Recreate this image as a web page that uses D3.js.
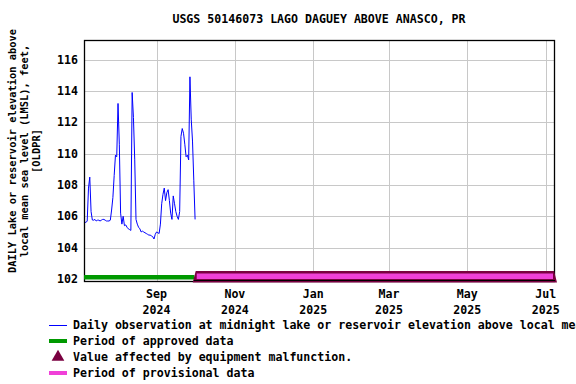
<!DOCTYPE html>
<html><head><meta charset="utf-8">
<script src="https://cdn.jsdelivr.net/npm/d3@7"></script>
<style>
html,body{margin:0;padding:0;background:#fff;}
svg{display:block;font-family:"DejaVu Sans Mono","Liberation Mono",monospace;font-weight:bold;}
</style></head>
<body><svg id="c" width="576" height="384"></svg>
<script>
const title = "USGS 50146073 LAGO DAGUEY ABOVE ANASCO, PR";
const yLabelLines = ["DAILY Lake or reservoir elevation above", "local mean sea level (LMSL), feet,", "[OLDPR]"];
const startDate = "2024-07-07";
const elevation = [105.65,105.6,105.7,107.8,108.5,106.3,105.76,105.75,105.8,105.7,105.75,105.75,105.7,105.75,105.8,105.8,105.75,105.7,105.7,105.7,105.75,
  106.4,107.2,108.6,109.9,109.8,113.2,110.6,106.2,105.5,106.0,105.4,105.45,105.3,105.2,105.15,105.1,
  113.9,112.3,109.6,105.8,105.5,105.3,105.2,105.0,105.05,105.0,104.95,104.9,104.85,104.8,104.8,104.75,104.7,104.55,104.85,105.0,104.95,104.9,
  105.5,106.8,107.4,107.8,107.0,107.5,107.7,107.0,106.2,105.8,107.3,106.8,106.3,106.0,105.8,106.3,
  111.1,111.6,111.3,110.6,109.8,109.9,109.6,114.9,112.2,110.8,108.3,105.8];
const yTicks = [102,104,106,108,110,112,114,116];
const xTickDates = ["2024-09-01","2024-11-01","2025-01-01","2025-03-01","2025-05-01","2025-07-01"];
const xTickLabels = [["Sep","2024"],["Nov","2024"],["Jan","2025"],["Mar","2025"],["May","2025"],["Jul","2025"]];
const approvedPeriod = ["2024-07-06T12:00","2024-09-30T12:00"];
const provisionalPeriod = ["2024-10-01T12:00","2025-07-07T12:00"];
const xDomain = ["2024-07-06T12:00","2025-07-07T12:00"];
const yDomain = [101.87, 117.25];
const legendItems = [
  {type:"line", text:"Daily observation at midnight lake or reservoir elevation above local mean sea level (LMSL), feet, [OLDPR]"},
  {type:"approved", text:"Period of approved data"},
  {type:"tri", text:"Value affected by equipment malfunction."},
  {type:"prov", text:"Period of provisional data"}
];

const parse = s => new Date(s + (s.length===10 ? "T00:00" : ""));
const svg = d3.select("#c");
const L=84, R=554, T=40, B=281;
const x = d3.scaleTime().domain(xDomain.map(parse)).range([L,R]);
const y = d3.scaleLinear().domain(yDomain).range([B,T]);
const FS = "11.6px";

// gridlines
svg.append("g").selectAll("line").data(yTicks.slice(1)).join("line")
  .attr("x1",L).attr("x2",R).attr("y1",d=>Math.round(y(d))+0.5).attr("y2",d=>Math.round(y(d))+0.5)
  .attr("stroke","#c8c8c8").attr("stroke-width",1);
svg.append("g").selectAll("line").data(xTickDates).join("line")
  .attr("x1",d=>Math.round(x(parse(d)))+0.5).attr("x2",d=>Math.round(x(parse(d)))+0.5).attr("y1",T).attr("y2",B)
  .attr("stroke","#c8c8c8").attr("stroke-width",1);

// data line
const s0 = parse(startDate);
const pts = elevation.map((v,i)=>({d:d3.timeDay.offset(s0,i), v}));
svg.append("path").datum(pts)
  .attr("d", d3.line().x(d=>x(d.d)).y(d=>y(d.v)))
  .attr("fill","none").attr("stroke","#0000ff").attr("stroke-width",1);

// frame
svg.append("rect").attr("x",L+0.5).attr("y",T+0.5).attr("width",R-L).attr("height",B-T)
  .attr("fill","none").attr("stroke","#000").attr("stroke-width",1.3);

// approved bar
const ap = approvedPeriod.map(parse);
svg.append("rect").attr("x",x(ap[0])).attr("y",275).attr("width",x(ap[1])-x(ap[0])).attr("height",4.5).attr("fill","#009900");
// malfunction band + provisional bar
const pp = provisionalPeriod.map(parse);
const px0 = x(pp[0]), px1 = x(pp[1]);
svg.append("path").attr("d",`M${px0-3},282.5 L${px0},271 L${px1},271 L${px1+3},282.5 Z`).attr("fill","#7a0040");
svg.append("rect").attr("x",px0+1).attr("y",273.5).attr("width",px1-px0-2).attr("height",5.5).attr("fill","#f040d8");
svg.append("line").attr("x1",px0-2).attr("x2",px1+1).attr("y1",280.5).attr("y2",280.5).attr("stroke","#000").attr("stroke-width",1);

// y tick labels
svg.append("g").selectAll("text").data(yTicks).join("text")
  .attr("x",78).attr("y",d=>y(d)).attr("dy","0.35em").attr("text-anchor","end").attr("font-size",FS)
  .text(d=>d);
// x tick labels
const xg = svg.append("g").selectAll("text").data(xTickDates).join("text")
  .attr("x",d=>x(parse(d))).attr("text-anchor","middle").attr("font-size",FS);
xg.append("tspan").attr("x",d=>x(parse(d))).attr("y",298).text((d,i)=>xTickLabels[i][0]);
xg.append("tspan").attr("x",d=>x(parse(d))).attr("y",314).text((d,i)=>xTickLabels[i][1]);

// title
svg.append("text").attr("x",(L+R)/2).attr("y",23).attr("text-anchor","middle").attr("font-size",FS).text(title);

// y label
const yl = svg.append("text").attr("transform",`translate(0,151) rotate(-90)`).attr("text-anchor","middle").attr("font-size","10.4px");
yLabelLines.forEach((t,i)=>yl.append("tspan").attr("x",0).attr("y",16+i*12).text(t));

// legend
const lg = svg.append("g");
legendItems.forEach((it,i)=>{
  const ly = 325 + i*16;
  if(it.type==="line") lg.append("line").attr("x1",49).attr("x2",67).attr("y1",ly+0.5).attr("y2",ly+0.5).attr("stroke","#0000ff").attr("stroke-width",1);
  if(it.type==="approved") lg.append("rect").attr("x",49).attr("y",ly-2).attr("width",18).attr("height",4).attr("fill","#009900");
  if(it.type==="prov") lg.append("rect").attr("x",49).attr("y",ly-2).attr("width",18).attr("height",4).attr("fill","#f040d8");
  if(it.type==="tri") lg.append("path").attr("d",d3.symbol(d3.symbolTriangle, 70)()).attr("transform",`translate(58,${ly})`).attr("fill","#7a0040");
  lg.append("text").attr("x",73).attr("y",ly).attr("dy","0.35em").attr("font-size",FS).text(it.text);
});
</script></body></html>
